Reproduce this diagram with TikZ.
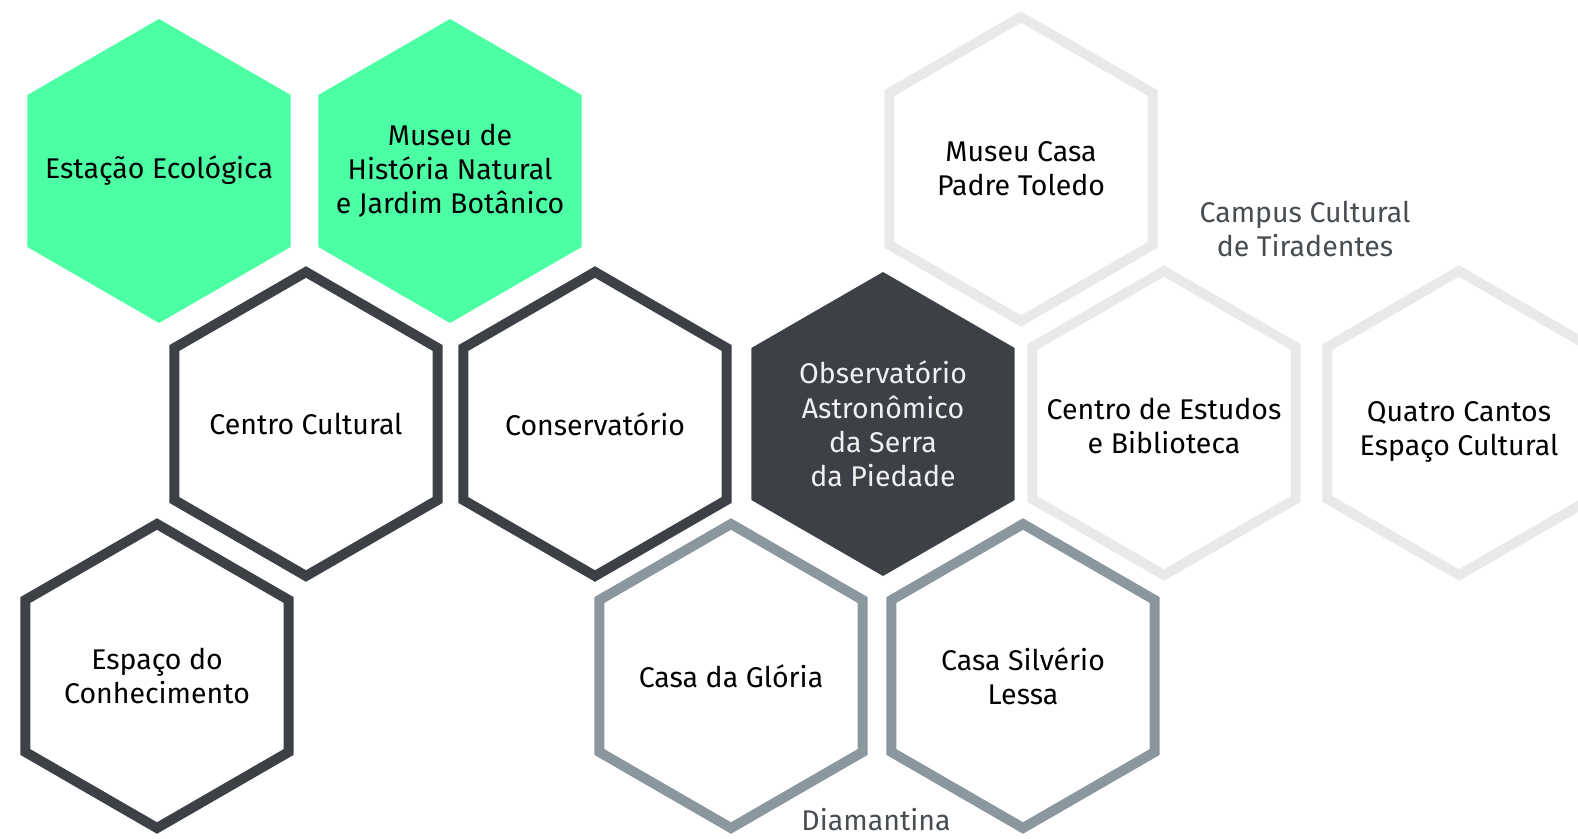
\documentclass[tikz,border=0pt]{standalone}
\usepackage{fontspec}
\setmainfont{Fira Sans}
\usepackage{tikz}
\usetikzlibrary{shapes.geometric}
\definecolor{mint}{RGB}{76,255,165}
\definecolor{slatedark}{RGB}{61,65,69}
\definecolor{slategrey}{RGB}{138,151,159}
\definecolor{paleline}{RGB}{233,233,233}
\definecolor{labelgrey}{RGB}{72,77,82}
\newcommand\HexSize{304pt}
\tikzset{
  hex/.style={
    shape = regular polygon,
    regular polygon sides = 6,
    shape border rotate = 30,
    minimum size = \HexSize,
    inner sep = 0pt
  },
  caption/.style={
    align = center,
    inner sep = 0pt,
    font = \fontsize{28.5}{34.2}\selectfont
  },
  hexmint/.style={
    hex,
    fill = mint,
    label = {[caption, text = black]center:#1}
  },
  hexdark/.style={
    hex,
    fill = slatedark,
    label = {[caption, text = white!94!black]center:#1}
  },
  hexline/.style={
    hex,
    draw = slatedark,
    line width = 10pt,
    label = {[caption, text = black]center:#1}
  },
  hexgrey/.style={
    hex,
    draw = slategrey,
    line width = 10pt,
    label = {[caption, text = black]center:#1}
  },
  hexpale/.style 2 args={
    hex,
    draw = paleline,
    line width = 10pt,
    label = {[caption, text = black, yshift = #2]center:#1}
  },
  group/.style={
    caption,
    text = labelgrey
  }
}

\begin{document}
\begin{tikzpicture}[x=1pt,y=-1pt]
    \useasboundingbox (0,0) rectangle (1578,838);
    \clip (0,0) rectangle (1578,838);

    % green row
    \node[hexmint={Estação Ecológica}] (estacao) at (159,171) {};
    \node[hexmint={Museu de\\História Natural\\e Jardim Botânico}] (museuhn) at (450,171) {};

    % dark row
    \node[hexline={Centro Cultural}] (centro) at (306,424) {};
    \node[hexline={Conservatório}] (conserv) at (595,424) {};
    \node[hexdark={Observatório\\Astronômico\\da Serra\\da Piedade}] (observ) at (883,424) {};
    \node[hexline={Espaço do\\Conhecimento}] (espaco) at (157,676) {};

    % Diamantina
    \node[hexgrey={Casa da Glória}] (gloria) at (731,676) {};
    \node[hexgrey={Casa Silvério\\Lessa}] (silverio) at (1023,676) {};
    \node[group] (diamantina) at (876,820) {Diamantina};

    % Tiradentes
    \node[hexpale={Museu Casa\\Padre Toledo}{0pt}] (toledo) at (1021,169) {};
    \node[hexpale={Centro de Estudos\\e Biblioteca}{-3pt}] (estudos) at (1164,423) {};
    \node[hexpale={Quatro Cantos\\Espaço Cultural}{-9pt}] (quatro) at (1459,423) {};
    \node[group] (campus) at (1305,229) {Campus Cultural\\de Tiradentes};
\end{tikzpicture}
\end{document}
